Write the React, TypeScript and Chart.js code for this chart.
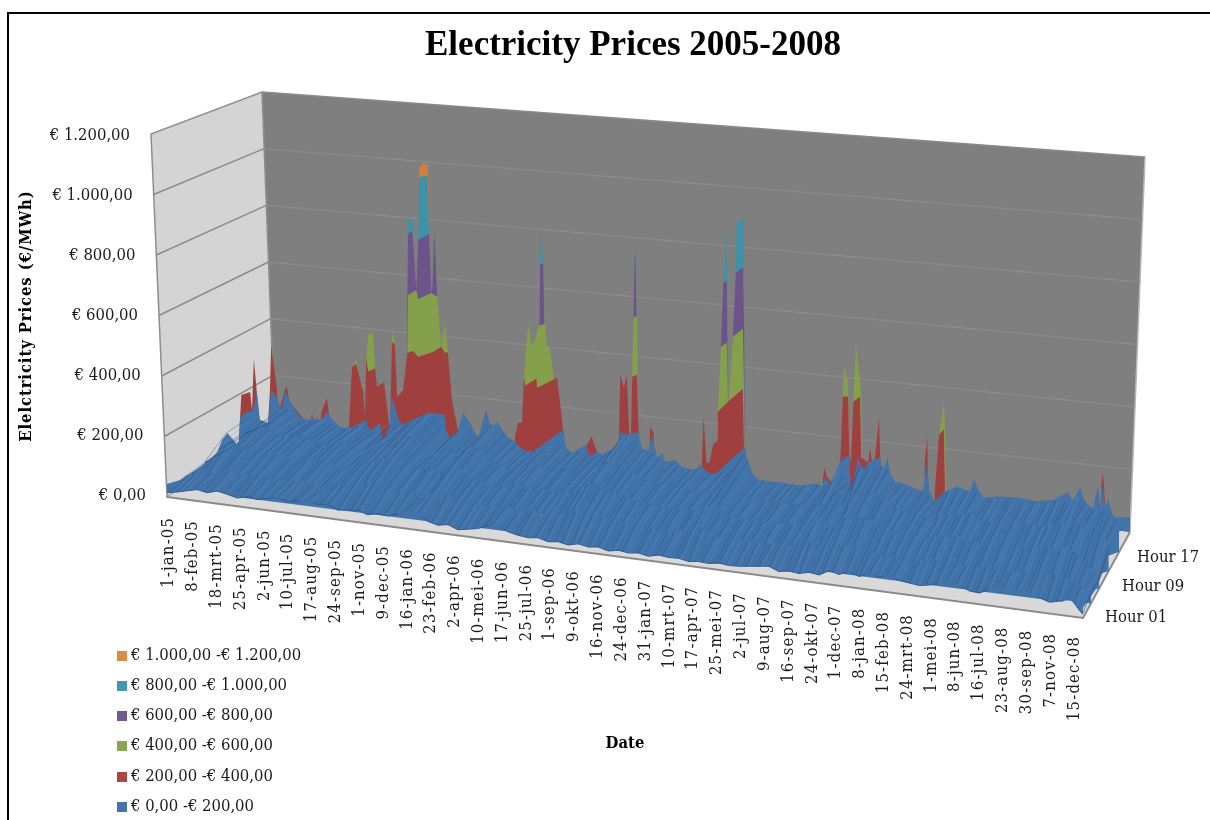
import React, { useEffect, useRef } from "react";
import { Chart, LineController, LineElement, PointElement, LinearScale, Filler } from "chart.js";

const TITLE = "Electricity Prices 2005-2008";
const Y_TITLE = "Elelctricity Prices (€/MWh)";
const X_TITLE = "Date";
const priceTicks = [0, 200, 400, 600, 800, 1000, 1200];
const priceTickLabels = ["€ 0,00", "€ 200,00", "€ 400,00", "€ 600,00", "€ 800,00", "€ 1.000,00", "€ 1.200,00"];
const hourLabels = ["Hour 01", "Hour 09", "Hour 17"];
const dateLabels = ["1-jan-05","8-feb-05","18-mrt-05","25-apr-05","2-jun-05","10-jul-05","17-aug-05","24-sep-05","1-nov-05","9-dec-05","16-jan-06","23-feb-06","2-apr-06","10-mei-06","17-jun-06","25-jul-06","1-sep-06","9-okt-06","16-nov-06","24-dec-06","31-jan-07","10-mrt-07","17-apr-07","25-mei-07","2-jul-07","9-aug-07","16-sep-07","24-okt-07","1-dec-07","8-jan-08","15-feb-08","24-mrt-08","1-mei-08","8-jun-08","16-jul-08","23-aug-08","30-sep-08","7-nov-08","15-dec-08"];
const bandNames = ["€ 1.000,00 -€ 1.200,00","€ 800,00 -€ 1.000,00","€ 600,00 -€ 800,00","€ 400,00 -€ 600,00","€ 200,00 -€ 400,00","€ 0,00 -€ 200,00"];

// Ridge outlines of each price band, hours around 18 (day number since 1-jan-05, €/MWh)
const orangeDays = [282,283,284,291,298,299,301];
const orangePrices = [50,957,993,1008,1003,970,50];
const tealDays = [263,264,265,272,273,275,281,282,283,298,300,302,486,487,489,492,494,645,646,647,648,650,794,795,800,801,803,815,816,817,828,829,832];
const tealPrices = [50,770,820,808,775,50,50,751,957,970,776,50,50,718,851,726,50,50,782,848,789,50,50,731,898,737,50,50,769,934,954,789,50];
const purpleDays = [263,264,265,272,279,282,300,304,306,309,314,316,485,486,487,492,494,496,643,644,646,647,649,651,790,791,795,801,802,803,810,811,816,828,830,832];
const purplePrices = [50,565,770,775,585,751,776,581,600,791,571,50,50,517,718,726,522,50,50,583,782,789,584,50,50,519,731,737,535,50,50,557,769,789,588,50];
const greenDays = [170,171,178,180,182,194,195,198,206,210,213,237,238,240,243,246,263,264,265,279,282,304,314,321,327,332,334,459,460,467,473,479,484,486,496,498,503,510,512,641,642,644,650,651,653,785,786,791,801,803,805,811,828,830,832,995,996,998,1005,1008,1013,1014,1018,1025,1027,1029,1157,1158,1166,1168,1170];
const greenPrices = [50,305,330,317,50,50,341,418,427,309,50,50,404,450,395,50,50,374,565,585,556,581,571,407,488,393,50,50,341,515,444,468,512,517,525,450,451,350,50,50,384,583,585,393,50,50,303,519,535,338,347,557,587,389,50,50,403,499,454,50,50,390,586,459,410,50,50,316,427,334,50];
const redDays = [-20,-19,-17,-15,0,3,6,11,16,30,33,35,45,47,58,62,65,100,104,107,117,120,129,132,136,164,166,171,178,190,193,195,198,210,213,225,232,235,238,243,247,257,264,274,282,307,321,327,332,339,349,351,444,445,450,457,460,462,481,482,516,526,532,565,566,574,583,585,619,620,622,628,633,637,640,642,650,653,655,671,672,678,682,758,759,762,767,772,778,785,786,803,828,830,832,962,963,966,969,979,986,992,996,1005,1007,1010,1014,1025,1027,1039,1042,1045,1050,1057,1059,1062,1133,1134,1138,1139,1140,1150,1151,1158,1166,1168,1170,1430,1431,1433,1435,1440,1461];
const redPrices = [0,10,95,168,182,123,293,184,93,86,190,345,199,120,202,213,170,90,137,100,90,145,193,147,90,50,105,305,317,224,145,341,296,309,250,266,155,112,404,395,224,249,374,382,365,387,407,388,393,236,139,50,50,136,187,189,341,312,340,310,351,182,50,50,142,170,123,50,50,187,386,345,386,198,186,384,393,202,50,50,226,208,50,50,114,281,130,131,192,207,303,340,389,198,50,50,127,164,132,114,149,187,403,405,214,188,390,410,208,195,245,200,208,348,216,50,50,221,304,222,50,50,132,316,334,136,50,50,209,256,217,50,50];
const blueDays = [-20,-19,-17,-4,0,5,11,16,30,35,45,53,58,67,84,95,112,117,129,139,151,168,196,198,218,223,232,238,242,248,255,269,299,327,329,349,358,369,383,396,406,415,432,445,457,475,526,532,541,566,568,583,593,605,617,622,635,652,660,667,675,684,694,697,714,726,748,756,768,781,832,835,845,854,896,924,953,963,966,975,992,1007,1010,1022,1030,1039,1059,1062,1071,1079,1089,1114,1131,1138,1142,1151,1168,1188,1210,1217,1224,1232,1256,1289,1323,1350,1375,1383,1395,1403,1417,1425,1430,1433,1437,1442,1450,1461];
const bluePrices = [0,10,95,115,116,123,184,93,86,197,173,135,202,165,119,112,122,101,147,122,102,102,136,93,131,76,81,219,200,158,133,150,184,184,102,133,198,168,115,217,153,182,136,123,99,97,182,117,109,142,99,123,115,135,111,195,191,205,141,116,201,127,145,113,127,104,102,121,100,94,198,97,109,94,94,91,105,97,128,107,187,214,89,207,160,195,216,154,219,125,144,130,121,218,123,93,130,151,140,181,149,125,134,139,134,146,176,148,197,153,130,208,139,216,141,169,121,91];

// Surface rows in the blue band, one value per 16 days, from the back to the front
const backRowDays = [0,300,700,1100,1400,1440,1461];
const backRowPrices = [18,20,18,18,24,44,50];
const hour18Row = [100,88,85,130,140,115,105,115,125,100,100,105,120,100,76,150,130,150,170,180,175,105,140,160,120,170,170,130,115,95,100,115,135,125,105,125,105,110,125,180,190,150,150,125,115,110,100,105,95,95,110,125,180,95,92,92,90,92,92,100,98,105,170,85,180,170,190,180,130,125,118,120,90,125,140,135,150,120,125,130,130,130,128,130,135,150,140,170,140,130,130,105,88];
const hour13Row = [92,58,100,125,125,110,100,110,115,95,95,100,112,96,74,130,118,130,150,155,150,100,125,140,110,145,145,115,105,90,95,105,120,110,98,112,98,100,112,150,160,130,128,110,105,100,95,98,90,90,100,110,150,92,88,88,85,88,88,92,92,96,100,150,82,150,145,160,150,118,112,106,108,88,110,125,120,135,112,112,118,118,118,116,118,122,135,125,150,125,115,100,60];
const hour08Row = [40,60,110,105,100,92,86,92,96,80,80,84,92,82,66,105,98,108,122,128,124,88,104,116,94,120,118,96,90,78,82,90,100,92,84,94,84,86,94,122,130,108,106,94,90,86,82,84,78,78,86,92,120,80,76,76,74,76,76,80,80,82,86,122,72,122,118,130,122,100,96,90,92,76,94,104,100,110,96,96,100,100,100,98,100,104,112,104,120,100,70,34,28];
const hour04Row = [33,44,50,58,66,62,60,64,66,56,58,60,64,58,50,70,68,74,82,86,84,64,72,78,66,82,80,68,64,56,58,62,68,64,60,66,60,60,66,82,86,74,72,66,62,60,58,60,56,56,60,64,80,58,54,54,54,56,56,58,58,60,62,80,54,80,78,86,82,70,66,64,66,56,66,72,70,76,68,68,70,70,70,70,70,72,76,72,80,70,56,40,28];
const hour01Row = [14,20,28,36,30,40,34,26,34,30,38,44,36,42,48,40,44,30,34,38,28,36,32,42,56,54,32,24,30,18,24,30,44,48,32,26,22,26,18,22,16,24,18,22,14,20,16,20,14,22,18,20,14,18,16,22,18,20,24,28,32,20,26,22,30,26,44,36,50,38,52,44,56,42,38,34,40,50,62,54,38,36,52,66,60,62,58,46,36,44,60,22,12];
// Upper limit of the front skirt: the left flank of the surface, then a level inside it
const frontCapDays = [0,21,53,80,88,97,113,132,140,150,200,1400,1440,1456,1461];
const frontCapPrices = [41,59,108,159,202,226,193,302,140,100,90,84,70,50,42];
const skirtDays = [0,64,1400,1461];
const skirtPrices = [0,-60,-60,0];
// Right flank of the surface, measured against the back row
const flankDays = [1376,1405,1432,1441,1461];
const flankLowPrices = [-289,-198,-44,-8,50];
const flankHighPrices = [-46,-6,34,36,50];

const COLORS = { orange: "#d07f3c", teal: "#3d92a9", purple: "#6c5389", green: "#85a04b", red: "#a0403e", blue: "#4273a9" };
const LEGEND_COLORS = ["#dd8a45", "#4198af", "#71588f", "#89a54e", "#aa4644", "#4572a7"];
const SERIF = '"DejaVu Serif Condensed", "DejaVu Serif", serif';

const corners = {
  base: { fl: [167, 497], fr: [1083, 618], bl: [275, 432], br: [1130, 532] },
  top: { fl: [151, 134], fr: [1097, 218], bl: [262, 92], br: [1145, 157] },
};
const lerp = (a: number, b: number, k: number) => a + (b - a) * k;
function project(u: number, t: number, v: number) {
  const pick = (c: any, i: number) => lerp(lerp(c.fl[i], c.fr[i], u), lerp(c.bl[i], c.br[i], u), t);
  return {
    x: lerp(pick(corners.base, 0), pick(corners.top, 0), v),
    y: lerp(pick(corners.base, 1), pick(corners.top, 1), v),
  };
}
function rowMatrix(chart: any, t: number) {
  const xs = chart.scales.x, ys = chart.scales.y;
  const p0 = xs.getPixelForValue(0), p1 = xs.getPixelForValue(1461);
  const yB = ys.getPixelForValue(0), yT = ys.getPixelForValue(1200);
  const S = project(0, t, 0), E = project(1, t, 0);
  const m0 = project(0.5, t, 0), m1 = project(0.5, t, 1);
  const hx = m1.x - m0.x, hy = m1.y - m0.y, D = yB - yT, W = p1 - p0;
  const a = (E.x - S.x) / W, b = (E.y - S.y) / W;
  return { a, b, c: -hx / D, d: -hy / D, e: S.x - p0 * a + (yB * hx) / D, f: S.y - p0 * b + (yB * hy) / D };
}
function polygon(ctx: any, pts: { x: number; y: number }[], fill: string, stroke?: string, w = 1) {
  ctx.beginPath();
  pts.forEach((p, i) => (i ? ctx.lineTo(p.x, p.y) : ctx.moveTo(p.x, p.y)));
  ctx.closePath();
  ctx.fillStyle = fill;
  ctx.fill();
  if (stroke) { ctx.strokeStyle = stroke; ctx.lineWidth = w; ctx.stroke(); }
}
const meshRows = [
  { t: 0, data: hour01Row }, { t: 0.17, data: hour04Row }, { t: 0.35, data: hour08Row }, { t: 0.55, data: hour13Row }, { t: 0.77, data: hour18Row },
];

const surfacePlugin: any = {
  id: "surface3d",
  beforeDraw(chart: any) {
    const ctx = chart.ctx;
    ctx.save();
    ctx.fillStyle = "#fff";
    ctx.fillRect(0, 0, 1210, 820);
    ctx.fillStyle = "#000";
    ctx.fillRect(7, 12, 1203, 2);
    ctx.fillRect(7, 12, 2, 808);
    polygon(ctx, [project(0, 1, 0), project(0, 1, 1), project(1, 1, 1), project(1, 1, 0)], "#7f7f7f");
    polygon(ctx, [project(0, 0, 0), project(0, 0, 1), project(0, 1, 1), project(0, 1, 0)], "#d4d4d4", "#8e8e8e", 1.5);
    polygon(ctx, [project(0, 0, 0), project(1, 0, 0), project(1, 1, 0), project(0, 1, 0)], "#d9d9d9");
    ctx.strokeStyle = "#8a8a8a";
    ctx.lineWidth = 2;
    ctx.beginPath();
    ctx.moveTo(project(0, 0, 0).x, project(0, 0, 0).y);
    ctx.lineTo(project(1, 0, 0).x, project(1, 0, 0).y);
    ctx.lineTo(project(1, 1, 0).x, project(1, 1, 0).y);
    ctx.stroke();
    ctx.strokeStyle = "#b8b8b8";
    ctx.lineWidth = 1.5;
    ctx.beginPath();
    ctx.moveTo(project(1, 1, 0).x, project(1, 1, 0).y);
    ctx.lineTo(project(1, 1, 1).x, project(1, 1, 1).y);
    ctx.stroke();
    priceTicks.forEach((p) => {
      if (p === 0) return;
      const v = p / 1200;
      ctx.strokeStyle = "#8a8a8a";
      ctx.lineWidth = 1.5;
      ctx.beginPath();
      ctx.moveTo(project(0, 1, v).x, project(0, 1, v).y);
      ctx.lineTo(project(1, 1, v).x, project(1, 1, v).y);
      ctx.stroke();
      if (p < 1200) {
        ctx.strokeStyle = "#8c8c8c";
        ctx.beginPath();
        ctx.moveTo(project(0, 0, v).x, project(0, 0, v).y);
        ctx.lineTo(project(0, 1, v).x, project(0, 1, v).y);
        ctx.stroke();
      }
    });
    ctx.restore();
  },
  beforeDatasetDraw(chart: any, args: any) {
    const t = chart.data.datasets[args.index].depth;
    const m = rowMatrix(chart, t);
    chart.ctx.save();
    chart.ctx.transform(m.a, m.b, m.c, m.d, m.e, m.f);
  },
  afterDatasetDraw(chart: any) {
    chart.ctx.restore();
  },
  afterDatasetsDraw(chart: any) {
    const ctx = chart.ctx, xs = chart.scales.x, ys = chart.scales.y;
    const mats = meshRows.map((r) => rowMatrix(chart, r.t));
    const at = (i: number, j: number) => {
      const m = mats[i], row = meshRows[i].data;
      const k = Math.floor(j), f = j - k;
      const a = row[k], b = row[Math.min(k + 1, row.length - 1)];
      const px = xs.getPixelForValue(Math.min((k + f) * 16, 1461));
      const py = ys.getPixelForValue(lerp(a, b, f));
      return { x: m.a * px + m.c * py + m.e, y: m.b * px + m.d * py + m.f };
    };
    ctx.save();
    ctx.lineWidth = 0.8;
    for (let i = 0; i < meshRows.length - 1; i++) {
      const row = meshRows[i].data;
      for (let j = 0; j < row.length - 1; j++) {
        for (let s = 0; s < 3; s++) {
          const jj = j + s / 3;
          const p = at(i, jj), q = at(i + 1, jj);
          const kind = (row[j] + meshRows[i + 1].data[j] + s + j * 2) % 3;
          ctx.strokeStyle = kind === 0 ? "rgba(38,72,116,0.5)" : kind === 1 ? "rgba(96,150,212,0.4)" : "rgba(52,96,150,0.35)";
          ctx.beginPath();
          ctx.moveTo(p.x, p.y);
          ctx.lineTo(q.x, q.y);
          ctx.stroke();
        }
      }
    }
    ctx.restore();
  },
  afterDraw(chart: any) {
    const ctx = chart.ctx, ys = chart.scales.y;
    ctx.save();
    ctx.textBaseline = "middle";
    // title
    ctx.fillStyle = "#000";
    ctx.font = 'bold 35px "Liberation Serif", serif';
    ctx.textAlign = "center";
    ctx.fillText(TITLE, 633, 46);
    // value axis
    ctx.fillStyle = "#1a1a1a";
    ctx.font = `16.5px ${SERIF}`;
    ctx.textAlign = "right";
    priceTicks.forEach((p, i) => {
      const y = ys.getPixelForValue(p);
      const edge = project(0, 0, p / 1200);
      ctx.fillText(priceTickLabels[i], edge.x - 21, y - 1);
    });
    // date axis
    (ctx as any).letterSpacing = "1.2px";
    dateLabels.forEach((lab, i) => {
      const day = i * 38;
      const x = project(day / 1461, 0, 0).x;
      const y = 517 + (x - 168) * 0.1315;
      ctx.save();
      ctx.translate(x + 2, y);
      ctx.rotate(-Math.PI / 2);
      ctx.textAlign = "right";
      ctx.fillText(lab, 0, 0);
      ctx.restore();
    });
    (ctx as any).letterSpacing = "0px";
    // depth axis
    ctx.textAlign = "left";
    ctx.fillText(hourLabels[0], 1105, 618);
    ctx.fillText(hourLabels[1], 1122, 587);
    ctx.fillText(hourLabels[2], 1137, 558);
    // axis titles
    ctx.fillStyle = "#000";
    ctx.font = `bold 16.5px ${SERIF}`;
    ctx.textAlign = "center";
    ctx.fillText(X_TITLE, 625, 744);
    ctx.save();
    ctx.translate(27, 316);
    ctx.rotate(-Math.PI / 2);
    (ctx as any).letterSpacing = "0.9px";
    ctx.fillText(Y_TITLE, 0, 0);
    (ctx as any).letterSpacing = "0px";
    ctx.restore();
    // legend
    ctx.font = `16.5px ${SERIF}`;
    ctx.textAlign = "left";
    bandNames.forEach((name, i) => {
      const y = [656, 686, 716, 746, 777, 807][i];
      ctx.fillStyle = LEGEND_COLORS[i];
      ctx.fillRect(117, y - 5, 10, 10);
      ctx.fillStyle = "#1a1a1a";
      ctx.fillText(name, 131, y);
    });
    ctx.restore();
  },
};

Chart.register(surfacePlugin, LineController, LineElement, PointElement, LinearScale, Filler);

const pts = (days: number[], prices: number[]) => days.map((x, i) => ({ x, y: prices[i] }));
const rowPts = (row: number[]) => row.map((y, i) => ({ x: Math.min(i * 16, 1461), y }));

export default function App() {
  const ref = useRef<HTMLCanvasElement>(null);
  useEffect(() => {
    const base = { pointRadius: 0, borderWidth: 0, clip: false as any, tension: 0 };
    const band = (label: string, days: number[], prices: number[], color: string, order: number) => ({
      ...base, label, data: pts(days, prices), backgroundColor: color, borderColor: color, fill: "origin", depth: 0.77, order,
    });
    const row = (label: string, t: number, data: any[], order: number, fill: any) => ({
      ...base, label, data, backgroundColor: COLORS.blue, borderColor: COLORS.blue, fill, depth: t, order,
    });
    const hidden = (label: string, t: number, data: any[]) => ({
      ...base, label, data, backgroundColor: "transparent", borderColor: "transparent", fill: false, depth: t, order: 30,
    });
    const datasets: any[] = [
      band(bandNames[0], orangeDays, orangePrices, COLORS.orange, 20),
      band(bandNames[1], tealDays, tealPrices, COLORS.teal, 19),
      band(bandNames[2], purpleDays, purplePrices, COLORS.purple, 18),
      band(bandNames[3], greenDays, greenPrices, COLORS.green, 17),
      band(bandNames[4], redDays, redPrices, COLORS.red, 16),
      band(bandNames[5], blueDays, bluePrices, COLORS.blue, 15),
      row("Back row", 1, pts(backRowDays, backRowPrices), 21, "origin"),
      row("Hour 18", 0.77, rowPts(hour18Row), 14, { target: 13 }),
      row("Hour 13", 0.55, rowPts(hour13Row), 13, { target: 14 }),
      row("Hour 08", 0.35, rowPts(hour08Row), 12, { target: 15 }),
      row("Hour 04", 0.17, rowPts(hour04Row), 10, "origin"),
      {
        ...base, label: "Hour 01", data: rowPts(hour01Row), backgroundColor: COLORS.blue, borderColor: "#315d90", borderWidth: 1,
        fill: { target: 12 }, depth: 0, order: 11,
      },
      hidden("Front limit", 0, pts(frontCapDays, frontCapPrices)),
      hidden("Skirt 18", 0.77, pts(skirtDays, skirtPrices)),
      hidden("Skirt 13", 0.55, pts(skirtDays, skirtPrices)),
      hidden("Skirt 08", 0.35, pts(skirtDays, skirtPrices)),
      hidden("Flank low", 1, pts(flankDays, flankLowPrices)),
      row("Flank high", 1, pts(flankDays, flankHighPrices), 9, { target: 16 }),
    ];
    const pxPerDay = 916 / 1461;
    const chart = new Chart(ref.current as HTMLCanvasElement, {
      type: "line",
      data: { datasets },
      options: {
        animation: false,
        responsive: false,
        devicePixelRatio: 1,
        events: [],
        layout: { padding: { left: 167 - 100 * pxPerDay, right: 127, top: 137, bottom: 218 } },
        scales: {
          x: { type: "linear", min: -100, max: 1461, display: false },
          y: { type: "linear", min: -350, max: 1200, display: false, ticks: { stepSize: 200 } },
        },
        plugins: { legend: { display: false }, title: { display: false }, tooltip: { enabled: false } },
      },
    } as any);
    return () => chart.destroy();
  }, []);
  return (
    <div style={{ position: "absolute", left: 0, top: 0, width: 1210, height: 820 }}>
      <canvas ref={ref} width={1210} height={820} style={{ display: "block" }} />
    </div>
  );
}
